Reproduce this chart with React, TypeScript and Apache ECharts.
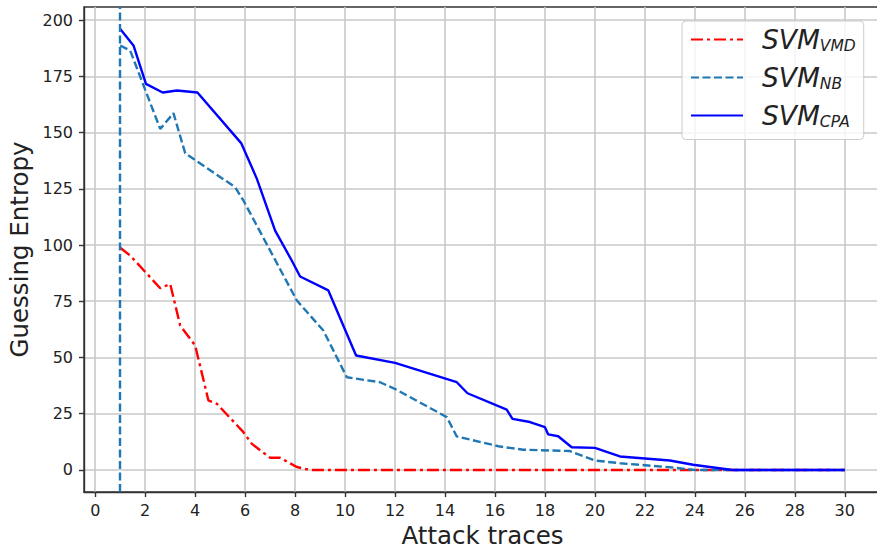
import React, { useEffect, useRef } from "react";
import * as echarts from "echarts";

// ---- data ----
const xTickValues = [0, 2, 4, 6, 8, 10, 12, 14, 16, 18, 20, 22, 24, 26, 28, 30];
const yTickValues = [0, 25, 50, 75, 100, 125, 150, 175, 200];

const vmdX = [1, 1.4, 2.6, 3.0, 3.4, 4.0, 4.53, 4.87, 5.93, 6.27, 7.0, 7.4, 8.07, 8.6, 30];
const vmdY = [98.8, 95.3, 80.8, 82.7, 64.2, 55.3, 30.9, 29.4, 16.8, 11.6, 5.4, 5.4, 1.3, 0, 0];

const nbX = [1, 1.4, 2.6, 3.13, 3.6, 5.6, 5.93, 8.07, 9.13, 10.07, 11.4, 12.07, 14.07, 14.47, 16.2, 17.13, 19, 20, 21, 23, 24, 30];
const nbY = [188.7, 186.4, 151.6, 158.6, 140.8, 125.7, 119.8, 75.3, 62, 41.2, 39, 35.6, 23.5, 14.9, 10.4, 9, 8.4, 4.2, 3, 1.2, 0, 0];

const cpaX = [1, 1.53, 2.03, 2.7, 3.27, 4.09, 5.84, 6.47, 7.2, 7.87, 8.2, 9.33, 10.44, 12, 14.47, 14.9, 16.47, 16.7, 17.4, 18, 18.13, 18.53, 19.07, 20, 21, 23, 23.93, 25.5, 30];
const cpaY = [196, 188.7, 171.6, 167.8, 168.7, 167.8, 145.3, 129.4, 106.4, 93, 86, 79.8, 50.9, 47.6, 39, 34.1, 26.8, 22.7, 21.3, 19, 15.8, 15, 10.1, 9.8, 6, 4.2, 2.3, 0, 0];

const vlineX = 1;

const seriesNames = ["SVM_VMD", "SVM_NB", "SVM_CPA"];
const seriesSubs: Record<string, string> = { SVM_VMD: "VMD", SVM_NB: "NB", SVM_CPA: "CPA" };

const zip = (xs: number[], ys: number[]) => xs.map((x, i) => [x, ys[i]]);

const FONT = "DejaVu Sans";

export default function App() {
  const ref = useRef<HTMLDivElement>(null);
  useEffect(() => {
    if (!ref.current) return;
    const chart = echarts.init(ref.current, null, { renderer: "svg" });
    const gridColor = "#c8c8c8";
    const LW = 2.4;
    chart.setOption({
      animation: false,
      backgroundColor: "#ffffff",
      grid: {
        left: 84,
        width: 797,
        top: 7,
        height: 485,
        outerBoundsMode: "none",
        containLabel: false,
        show: true,
        borderColor: "#333",
        borderWidth: 1.4,
        backgroundColor: "transparent",
      },
      xAxis: {
        type: "value",
        min: -0.45,
        max: 31.45,
        name: "Attack traces",
        nameLocation: "middle",
        nameGap: 30,
        nameTextStyle: { fontFamily: FONT, fontSize: 24.5, color: "#222" },
        axisLine: { show: true, onZero: false, lineStyle: { color: "#333", width: 1.4 } },
        axisTick: {
          show: true,
          inside: false,
          length: 5,
          customValues: xTickValues,
          lineStyle: { color: "#333", width: 1.4 },
        },
        axisLabel: {
          customValues: xTickValues,
          fontFamily: FONT,
          fontSize: 16,
          color: "#222",
          margin: 10,
        },
        splitLine: { show: true, lineStyle: { color: gridColor, width: 1.6 } },
      },
      yAxis: {
        type: "value",
        min: -9.8,
        max: 205.8,
        name: "Guessing Entropy",
        nameLocation: "middle",
        nameGap: 49,
        nameTextStyle: { fontFamily: FONT, fontSize: 24.5, color: "#222" },
        axisLine: { show: true, onZero: false, lineStyle: { color: "#333", width: 1.4 } },
        axisTick: {
          show: true,
          inside: false,
          length: 5,
          customValues: yTickValues,
          lineStyle: { color: "#333", width: 1.4 },
        },
        axisLabel: {
          customValues: yTickValues,
          fontFamily: FONT,
          fontSize: 16,
          color: "#222",
          margin: 11,
        },
        splitLine: { show: true, lineStyle: { color: gridColor, width: 1.6 } },
      },
      legend: {
        data: seriesNames,
        orient: "vertical",
        left: 682,
        top: 21,
        padding: [5, 8, 10, 8],
        itemGap: 10.5,
        itemWidth: 52,
        itemHeight: 14,
        itemStyle: { opacity: 0 },
        backgroundColor: "rgba(255,255,255,0.8)",
        borderColor: "#cccccc",
        borderWidth: 1,
        borderRadius: 4,
        formatter: (name: string) => `{m|SVM}{s|${seriesSubs[name]}}`,
        textStyle: {
          rich: {
            m: {
              fontFamily: FONT,
              fontStyle: "italic",
              fontSize: 26.5,
              lineHeight: 28,
              color: "#222",
              padding: [0, 0, 0, 14],
            },
            s: {
              fontFamily: FONT,
              fontStyle: "italic",
              fontSize: 15.5,
              lineHeight: 16,
              verticalAlign: "bottom",
              color: "#222",
            },
          },
        },
      },
      series: [
        {
          name: "SVM_VMD",
          type: "line",
          data: zip(vmdX, vmdY),
          symbol: "none",
          lineStyle: { color: "#ff0000", width: LW, type: [12, 4, 3, 4] },
          itemStyle: { color: "#ff0000" },
          z: 2,
        },
        {
          name: "SVM_NB",
          type: "line",
          data: zip(nbX, nbY),
          symbol: "none",
          lineStyle: { color: "#1f77b4", width: LW, type: [8, 3.5] },
          itemStyle: { color: "#1f77b4" },
          z: 3,
          markLine: {
            silent: true,
            symbol: ["none", "none"],
            label: { show: false },
            lineStyle: { color: "#1f77b4", width: LW, type: [8, 3.5] },
            data: [{ xAxis: vlineX }],
          },
        },
        {
          name: "SVM_CPA",
          type: "line",
          data: zip(cpaX, cpaY),
          symbol: "none",
          lineStyle: { color: "#0000ff", width: LW, type: "solid" },
          itemStyle: { color: "#0000ff" },
          z: 4,
        },
      ],
    });
    return () => chart.dispose();
  }, []);
  return (
    <div
      ref={ref}
      style={{ position: "fixed", left: 0, top: 0, width: 877, height: 556, background: "#fff" }}
    />
  );
}
